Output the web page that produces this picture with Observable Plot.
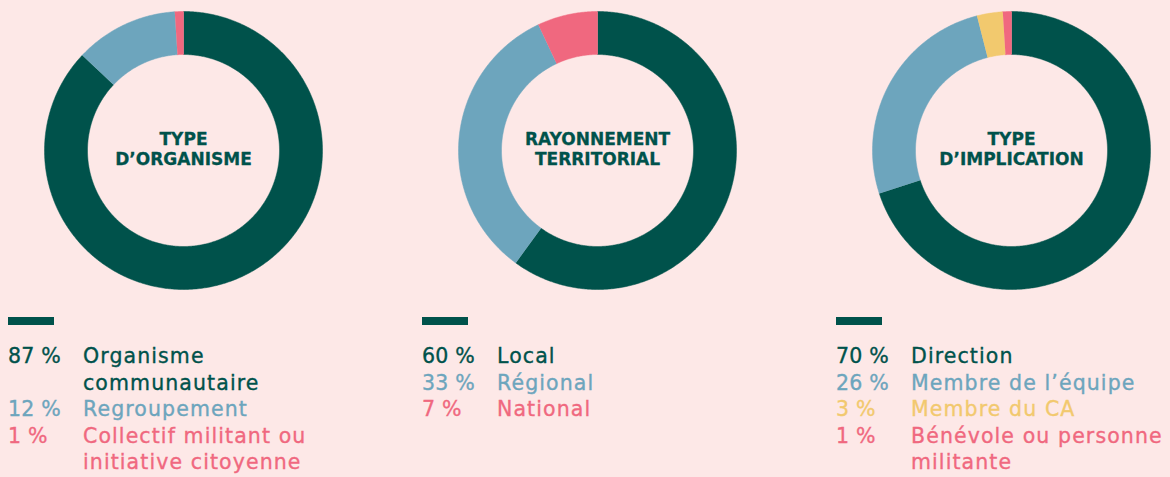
<!DOCTYPE html>
<html>
<head>
<meta charset="utf-8">
<script src="https://cdn.jsdelivr.net/npm/d3@7"></script>
<script src="https://cdn.jsdelivr.net/npm/@observablehq/plot@0.6"></script>
<style>
  html, body { margin: 0; padding: 0; background: #fde8e7; }
  body { width: 1170px; height: 477px; overflow: hidden; font-family: "DejaVu Sans", sans-serif; }
  #wrap { display: flex; }
  .col { width: 414px; flex: none; position: relative; }
  .col svg { display: block; background: transparent; margin-left: 8px; }
  .bar { width: 46px; height: 8px; margin: 17px 0 0 8px; }
  .legend { margin: 18px 0 0 8px; font-size: 20.5px; line-height: 26.5px; letter-spacing: 1.1px; -webkit-text-stroke: 0.35px currentColor; }
  .row { display: flex; }
  .pct { width: 75px; flex: none; letter-spacing: 0.2px; }
  .lab { white-space: pre; }
</style>
</head>
<body>
<div id="wrap"></div>
<script>
// ---- data ----
const titles = ["TYPE\nD\u2019ORGANISME", "RAYONNEMENT\nTERRITORIAL", "TYPE\nD\u2019IMPLICATION"];

const cats1 = ["Organisme\ncommunautaire", "Regroupement", "Collectif militant ou\ninitiative citoyenne"];
const vals1 = [87, 12, 1];
const cols1 = ["#00524b", "#6da5bd", "#f0687f"];

const cats2 = ["Local", "Régional", "National"];
const vals2 = [60, 33, 7];
const cols2 = ["#00524b", "#6da5bd", "#f0687f"];

const cats3 = ["Direction", "Membre de l\u2019équipe", "Membre du CA", "Bénévole ou personne\nmilitante"];
const vals3 = [70, 26, 3, 1];
const cols3 = ["#00524b", "#6da5bd", "#f2c96e", "#f0687f"];

const charts = [
  {title: titles[0], cats: cats1, vals: vals1, cols: cols1},
  {title: titles[1], cats: cats2, vals: vals2, cols: cols2},
  {title: titles[2], cats: cats3, vals: vals3, cols: cols3}
];

const R_OUT = 139, R_IN = 96;

function slicePoints(cats, vals) {
  const total = d3.sum(vals);
  const pts = [];
  let acc = 0;
  cats.forEach((c, i) => {
    const a0 = acc / total * 2 * Math.PI;
    acc += vals[i];
    const a1 = acc / total * 2 * Math.PI;
    const n = Math.max(2, Math.ceil((a1 - a0) / 0.01));
    for (let k = 0; k <= n; k++) {
      const a = a0 + (a1 - a0) * k / n;
      pts.push({key: c, x: R_OUT * Math.sin(a), y: R_OUT * Math.cos(a)});
    }
    for (let k = n; k >= 0; k--) {
      const a = a0 + (a1 - a0) * k / n;
      pts.push({key: c, x: R_IN * Math.sin(a), y: R_IN * Math.cos(a)});
    }
  });
  return pts;
}

const wrap = document.getElementById("wrap");
charts.forEach(ch => {
  const col = document.createElement("div");
  col.className = "col";
  const plot = Plot.plot({
    width: 350, height: 300,
    margin: 0,
    x: {domain: [-175, 175], axis: null},
    y: {domain: [-150, 150], axis: null},
    color: {domain: ch.cats, range: ch.cols},
    style: {background: "transparent"},
    marks: [
      Plot.line(slicePoints(ch.cats, ch.vals), {x: "x", y: "y", fill: "key", stroke: "key", strokeWidth: 0.5, z: "key"}),
      Plot.text([ch.title], {x: () => 0, y: () => 2, text: d => d, fill: "#00524b", stroke: "#00524b", strokeWidth: 0.3, fontSize: 17, fontWeight: "bold", lineHeight: 1.18, fontFamily: "DejaVu Sans", textAnchor: "middle"})
    ]
  });
  col.appendChild(plot);
  const bar = document.createElement("div");
  bar.className = "bar";
  bar.style.background = ch.cols[0];
  col.appendChild(bar);
  const leg = document.createElement("div");
  leg.className = "legend";
  ch.cats.forEach((c, i) => {
    const row = document.createElement("div");
    row.className = "row";
    row.style.color = ch.cols[i];
    const p = document.createElement("span");
    p.className = "pct";
    p.textContent = ch.vals[i] + "\u00a0%";
    const l = document.createElement("span");
    l.className = "lab";
    l.textContent = c;
    row.appendChild(p); row.appendChild(l);
    leg.appendChild(row);
  });
  col.appendChild(leg);
  wrap.appendChild(col);
});
</script>
</body>
</html>
